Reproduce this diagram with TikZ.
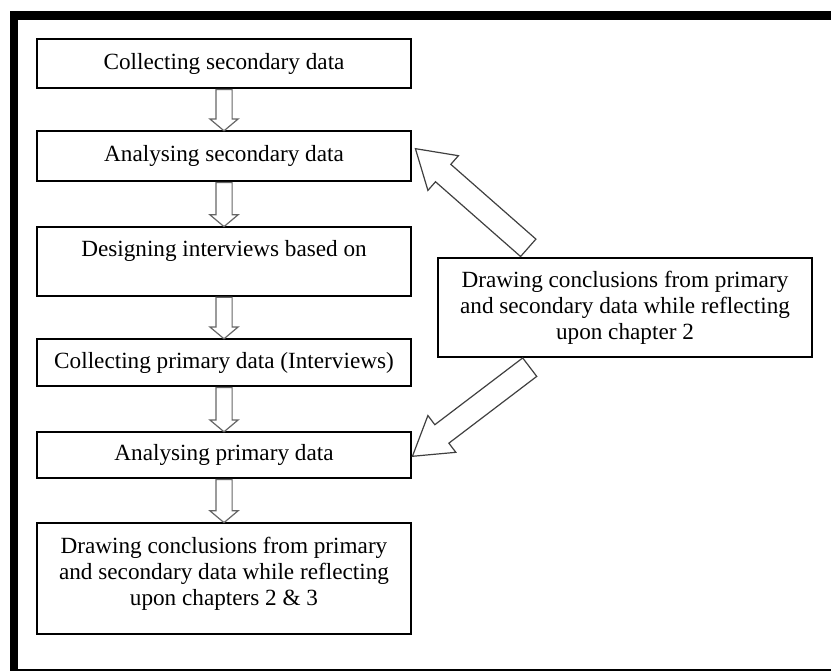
\documentclass[tikz,border=0pt]{standalone}
\usepackage{fontspec}
\setmainfont{Liberation Serif}
\usetikzlibrary{calc,shapes.arrows}

\tikzset{
	box/.style={draw, line width=0.8pt, minimum width=187pt, inner xsep=4pt, align=center},
	smallarrow/.style={single arrow, draw=black!60, fill=white, line width=0.6pt, inner xsep=0pt, inner ysep=3.75pt,
		single arrow head extend=3pt, single arrow tip angle=100},
	bigarrow/.style={single arrow, draw=black!75, fill=white, line width=0.6pt, inner xsep=0pt, inner ysep=5.5pt,
		single arrow head extend=5.75pt, single arrow tip angle=64}
}

% hollow block arrow: name, style, from, to
\newcommand{\blockarrow}[4]{%
	\path let \p1=(#3), \p2=(#4), \n1={atan2(\y2-\y1,\x2-\x1)}, \n2={veclen(\x2-\x1,\y2-\y1)}
		in node[#2, anchor=tail, rotate=\n1, minimum height=\n2] (#1) at (\p1) {};
}

\begin{document}
\begin{tikzpicture}[x=0.5pt, y=-0.5pt, font=\fontsize{11.6}{13}\selectfont]
	\useasboundingbox (0,0) rectangle (831,671);
	% frame
	\fill (10,11) rectangle (831,20);
	\fill (10,11) rectangle (18,671);
	\fill (10,669) rectangle (831,671);

	% left column
	\node[box, minimum height=24.5pt] (collsec) at (224,63.5) {Collecting secondary data};
	\node[box, minimum height=25pt] (analsec) at (224,156) {Analysing secondary data};
	\node[box, anchor=north, inner ysep=5.5pt, text height=9.5pt, text depth=14pt] (design) at (224,226) {Designing interviews based on};
	\node[box, minimum height=23.5pt] (collprim) at (224,362.5) {Collecting primary data (Interviews)};
	\node[box, minimum height=23pt] (analprim) at (224,455) {Analysing primary data};
	\node[box, anchor=north, inner ysep=6pt, text height=35.5pt, text depth=8pt] (concl) at (224,522)
		{Drawing conclusions from primary\\and secondary data while reflecting\\upon chapters 2 \& 3};

	% right box
	\node[box, minimum height=49.5pt] (reflect) at (625,307.5)
		{Drawing conclusions from primary\\and secondary data while reflecting\\upon chapter 2};

	\foreach \a/\b in {collsec/analsec, analsec/design, design/collprim, collprim/analprim, analprim/concl}
		\blockarrow{down-\a}{smallarrow}{\a.south}{\b.north};

	\blockarrow{toanalsec}{bigarrow}{$(reflect.north west)+(91.5,-9)$}{$(analsec.east)+(4,-7)$}
	\blockarrow{toanalprim}{bigarrow}{$(reflect.south west)+(93,9)$}{$(analprim.east)+(1,1)$}
\end{tikzpicture}
\end{document}
